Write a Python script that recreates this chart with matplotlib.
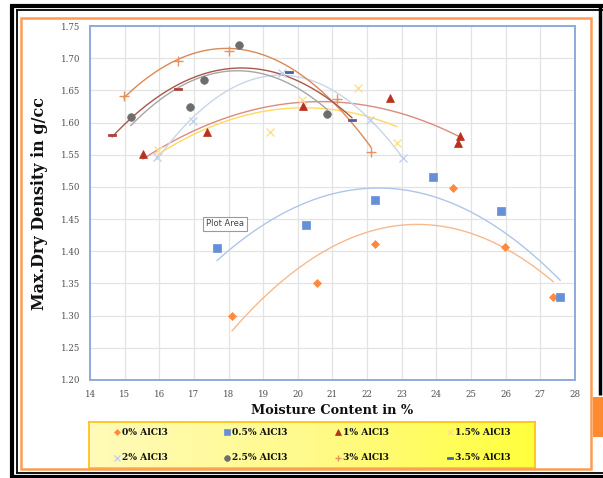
import numpy as np
import matplotlib
matplotlib.use("Agg")
import matplotlib.pyplot as plt
from matplotlib.path import Path
from matplotlib.patches import Rectangle
from matplotlib.lines import Line2D

# ---- data: moisture content (%) vs max dry density (g/cc) ----
labels = ["0% AlCl3", "0.5% AlCl3", "1% AlCl3", "1.5% AlCl3",
          "2% AlCl3", "2.5% AlCl3", "3% AlCl3", "3.5% AlCl3"]

mc_0 = [18.1, 20.55, 22.23, 24.48, 25.98, 27.37]
dd_0 = [1.300, 1.351, 1.411, 1.498, 1.407, 1.329]

mc_05 = [17.67, 20.24, 22.23, 23.90, 25.86, 27.57]
dd_05 = [1.405, 1.441, 1.480, 1.515, 1.463, 1.329]

mc_1 = [15.53, 17.38, 20.15, 22.66, 24.68, 24.62]
dd_1 = [1.551, 1.585, 1.626, 1.638, 1.579, 1.568]

mc_15 = [15.96, 19.20, 20.12, 21.74, 22.86]
dd_15 = [1.557, 1.585, 1.635, 1.654, 1.568]

mc_2 = [15.93, 16.97, 19.54, 22.08, 23.03]
dd_2 = [1.546, 1.602, 1.677, 1.604, 1.545]

mc_25 = [15.18, 16.89, 17.29, 18.30, 20.84]
dd_25 = [1.609, 1.624, 1.666, 1.720, 1.613]

mc_3 = [14.98, 16.54, 18.01, 21.13, 22.11]
dd_3 = [1.641, 1.696, 1.711, 1.637, 1.554]

mc_35 = [14.64, 16.55, 19.74, 21.56]
dd_35 = [1.581, 1.652, 1.678, 1.604]

x_ticks = list(range(14, 29))
y_ticks = [1.20, 1.25, 1.30, 1.35, 1.40, 1.45, 1.50, 1.55, 1.60, 1.65, 1.70, 1.75]

# ---- styles ----
dash = Path([(-1, -0.35), (1, -0.35), (1, 0.35), (-1, 0.35), (-1, -0.35)],
            [Path.MOVETO, Path.LINETO, Path.LINETO, Path.LINETO, Path.CLOSEPOLY])

series = [
    (mc_0, dd_0, dict(marker="D", ms=4.0, mfc="#FF8A3D", mec="#FF8A3D", mew=0.5), "#F7B98E"),
    (mc_05, dd_05, dict(marker="s", ms=5.5, mfc="#6590D8", mec="#6590D8", mew=0.5), "#AFC5EA"),
    (mc_1, dd_1, dict(marker="^", ms=6.0, mfc="#B9301F", mec="#B9301F", mew=0.5), "#DA8C82"),
    (mc_15, dd_15, dict(marker="x", ms=6.0, mfc="none", mec="#FFE08A", mew=1.0), "#FFD95E"),
    (mc_2, dd_2, dict(marker="x", ms=6.0, mfc="none", mec="#C3D2EC", mew=1.0), "#C9D5EA"),
    (mc_25, dd_25, dict(marker="o", ms=5.5, mfc="#6D6D6D", mec="#6D6D6D", mew=0.5), "#A6A6A6"),
    (mc_3, dd_3, dict(marker="+", ms=6.5, mfc="none", mec="#E9915A", mew=1.0), "#DA8A55"),
    (mc_35, dd_35, dict(marker=dash, ms=6.0, mfc="#3E63B0", mec="#B5443A", mew=0.6), "#A8584A"),
]

W, H = 603, 478
fig = plt.figure(figsize=(W / 100, H / 100), dpi=100)
fig.patch.set_facecolor("white")


def fx(px):
    return px / W


def fy(py):
    return 1 - py / H


# ---- main scatter axes ----
ax = fig.add_axes([fx(90), fy(380), fx(575) - fx(90), fy(26) - fy(380)])
ax.set_xlim(14, 28)
ax.set_ylim(1.20, 1.75)
ax.set_xticks(x_ticks)
ax.set_yticks(y_ticks)
ax.set_xticklabels([str(t) for t in x_ticks])
ax.set_yticklabels([f"{t:.2f}" for t in y_ticks])
ax.tick_params(length=0, labelsize=6.2, labelcolor="#505050", pad=7)
for lab in ax.get_xticklabels() + ax.get_yticklabels():
    lab.set_family("DejaVu Serif")
ax.grid(True, color="#E3E3E3", lw=0.9)
ax.set_axisbelow(True)
for sp in ax.spines.values():
    sp.set_color("#8FAADC")
    sp.set_linewidth(1.4)

for xs, ys, mstyle, tcol in series:
    xs = np.asarray(xs)
    ys = np.asarray(ys)
    coef = np.polyfit(xs, ys, 2)
    xx = np.linspace(xs.min(), xs.max(), 200)
    ax.plot(xx, np.polyval(coef, xx), color=tcol, lw=1.0, zorder=2)
    ax.plot(xs, ys, ls="none", zorder=3, **mstyle)

ax.set_xlabel("Moisture Content in %", family="DejaVu Serif", fontweight="bold",
              fontsize=9.3, color="#111111", labelpad=4)
ax.set_ylabel("Max.Dry Density in g/cc", family="DejaVu Serif", fontweight="bold",
              fontsize=11.5, color="#111111", labelpad=9)

# tooltip box inside the plot area
fig.text(fx(225), fy(224), "Plot Area", ha="center", va="center", fontsize=6,
         color="#444444", family="DejaVu Sans",
         bbox=dict(boxstyle="square,pad=0.35", fc="white", ec="#9A9A9A", lw=0.8))

# ---- legend panel with yellow gradient ----
lx0, lx1, ly0, ly1 = 89, 535, 422, 468
lax = fig.add_axes([fx(lx0), fy(ly1), fx(lx1) - fx(lx0), fy(ly0) - fy(ly1)])
grad = np.linspace(0, 1, 256)[None, :]
cmap = matplotlib.colors.LinearSegmentedColormap.from_list(
    "yel", ["#FFFBB8", "#FFFA8A", "#FFFF3C"])
lax.imshow(grad, aspect="auto", cmap=cmap, extent=[0, 1, 0, 1], zorder=0)
lax.set_xlim(0, 1)
lax.set_ylim(0, 1)
lax.set_xticks([])
lax.set_yticks([])
for sp in lax.spines.values():
    sp.set_color("#FFC21A")
    sp.set_linewidth(1.3)

col_marker = [0.063, 0.309, 0.558, 0.809]
row_y = [0.78, 0.22]
for i, (lab, (_, _, mstyle, _)) in enumerate(zip(labels, series)):
    r, c = divmod(i, 4)
    ms = dict(mstyle)
    ms["ms"] = ms["ms"] * 0.75
    lax.plot([col_marker[c]], [row_y[r]], ls="none", zorder=3, **ms)
    lax.text(col_marker[c] + 0.011, row_y[r], lab, ha="left", va="center",
             family="DejaVu Serif", fontweight="bold", fontsize=6.6, color="#111111")

# ---- decorative frames ----
def frame_line(x0, y0, x1, y1, color, lw):
    fig.add_artist(Line2D([fx(x0), fx(x1)], [fy(y0), fy(y1)], color=color,
                          lw=lw, solid_capstyle="butt"))

# outer double black border
frame_line(10, 5.5, 603, 5.5, "black", 3.0)
frame_line(16, 10, 603, 10, "black", 1.3)
frame_line(12, 5, 12, 478, "black", 3.0)
frame_line(16.5, 10, 16.5, 473, "black", 1.3)
frame_line(10, 476.5, 603, 476.5, "black", 3.0)
frame_line(16, 472.5, 603, 472.5, "black", 1.3)
frame_line(600, 5, 600, 395, "black", 2.5)

# orange chart border
fig.add_artist(Rectangle((fx(20.5), fy(469)), fx(591) - fx(20.5), fy(18) - fy(469),
                         fill=False, ec="#FF9A55", lw=1.8))
# orange side tab
fig.add_artist(Rectangle((fx(593), fy(437)), fx(603) - fx(593), fy(397) - fy(437),
                         fc="#FF8A30", ec="none"))

fig.savefig("out.png", dpi=100, facecolor="white")
